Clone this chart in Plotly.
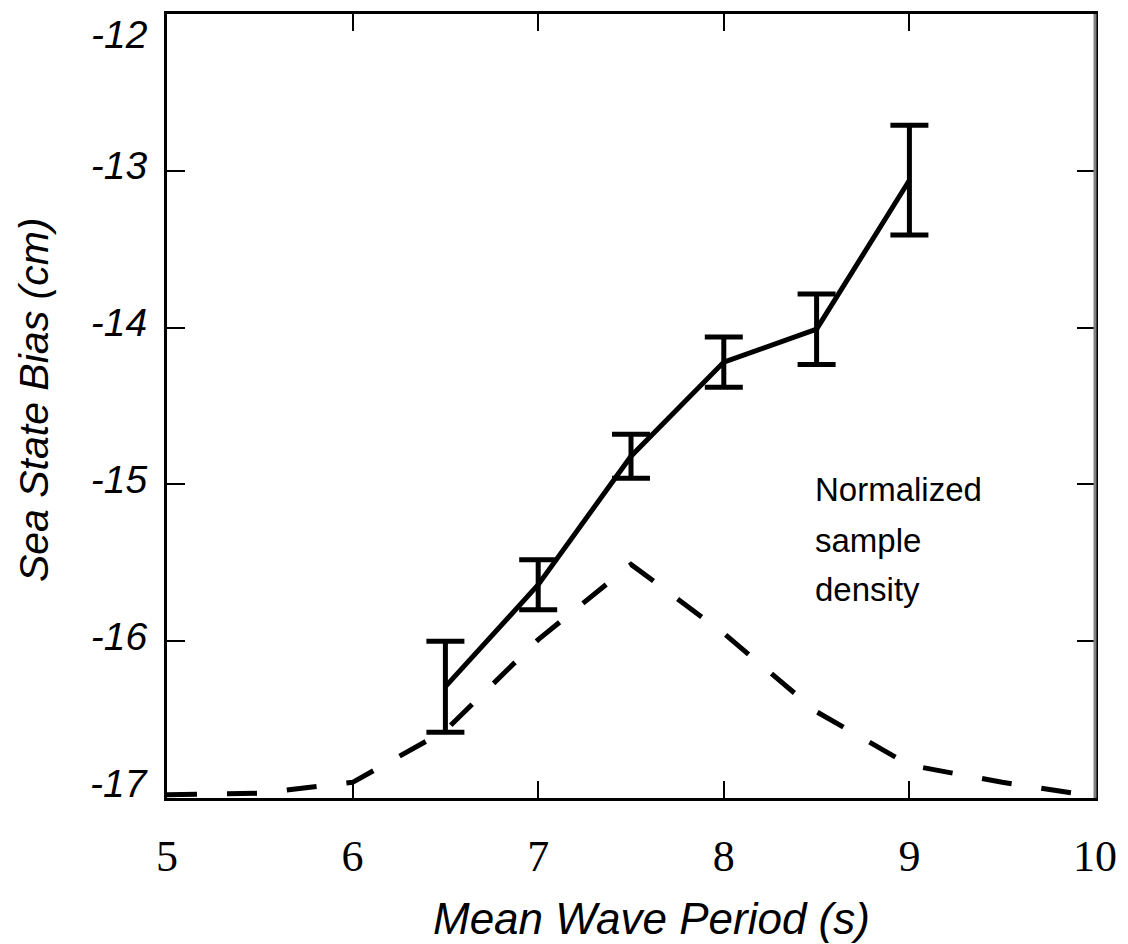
import plotly.graph_objects as go

# Mean wave period (s) and sea state bias (cm) with error half-widths
period = [6.5, 7.0, 7.5, 8.0, 8.5, 9.0]
bias = [-16.29, -15.64, -14.82, -14.22, -14.01, -13.06]
bias_err = [0.29, 0.16, 0.14, 0.16, 0.225, 0.35]

# Normalized sample density curve (drawn on the same y scale)
density_x = [5.0, 5.5, 6.0, 6.5, 7.0, 7.5, 8.0, 8.5, 9.0, 9.5, 10.0]
density_y = [-16.98, -16.97, -16.90, -16.57, -15.99, -15.51, -15.95, -16.45, -16.79, -16.90, -16.99]

x_ticks = [5, 6, 7, 8, 9, 10]
y_ticks = [-17, -16, -15, -14, -13, -12]
y_ticktext = ["", "-16", "-15", "-14", "-13", ""]

density_label = ["Normalized", "sample", "density"]

fig = go.Figure()

fig.add_trace(go.Scatter(
    x=density_x, y=density_y, mode="lines",
    line=dict(color="black", width=5, dash="30px,30px"),
    showlegend=False, hoverinfo="skip",
))

fig.add_trace(go.Scatter(
    x=period, y=bias, mode="lines",
    line=dict(color="black", width=5),
    error_y=dict(type="data", array=bias_err, visible=True,
                 color="black", thickness=5, width=19),
    showlegend=False,
))

sans_it = dict(family="Liberation Sans, Arial, sans-serif", size=39, color="black", style="italic")

fig.update_layout(
    width=1128, height=944,
    margin=dict(l=167, r=30, t=11, b=146),
    paper_bgcolor="white", plot_bgcolor="white",
    xaxis=dict(
        range=[5, 10], tickvals=x_ticks, ticktext=[str(v) for v in x_ticks],
        ticks="inside", ticklen=17, tickwidth=2, tickcolor="black",
        showline=True, linewidth=3, linecolor="black", mirror="ticks",
        showgrid=False, zeroline=False,
        tickfont=dict(family="Liberation Serif, Times New Roman, serif", size=44, color="black"),
        ticklabelstandoff=17,
    ),
    yaxis=dict(
        range=[-17, -12], tickvals=y_ticks, ticktext=y_ticktext,
        ticks="inside", ticklen=18, tickwidth=2, tickcolor="black",
        showline=True, linewidth=3, linecolor="black", mirror="ticks",
        showgrid=False, zeroline=False,
        tickfont=sans_it,
        ticklabelstandoff=9, ticklabelshift=-5,
    ),
    shapes=[
        dict(type="line", xref="paper", yref="paper", x0=1, x1=1, y0=0, y1=1,
             line=dict(color="#808080", width=3), layer="above"),
    ],
)

annotations = [
    dict(text="-12", xref="paper", yref="y", x=0, y=-12, xanchor="right", yanchor="middle",
         xshift=-17, yshift=-20, showarrow=False, font=sans_it),
    dict(text="-17", xref="paper", yref="y", x=0, y=-17, xanchor="right", yanchor="middle",
         xshift=-17, yshift=15, showarrow=False, font=sans_it),
    dict(text="Mean Wave Period (s)", xref="paper", yref="paper", x=0.522, y=-0.154,
         xanchor="center", yanchor="middle", showarrow=False,
         font=dict(family="Liberation Sans, Arial, sans-serif", size=44, color="black", style="italic")),
    dict(text="Sea State Bias (cm)", xref="paper", yref="paper", x=-0.144, y=0.508,
         xanchor="center", yanchor="middle", textangle=-90, showarrow=False,
         font=dict(family="Liberation Sans, Arial, sans-serif", size=41, color="black", style="italic")),
]
for t, yv in zip(density_label, [-15.03, -15.355, -15.67]):
    annotations.append(dict(text=t, xref="x", yref="y", x=8.48, y=yv, xanchor="left",
                            yanchor="middle", showarrow=False,
                            font=dict(family="Liberation Sans, Arial, sans-serif", size=33, color="black")))
fig.update_layout(annotations=annotations)

fig.write_html("out.html")
